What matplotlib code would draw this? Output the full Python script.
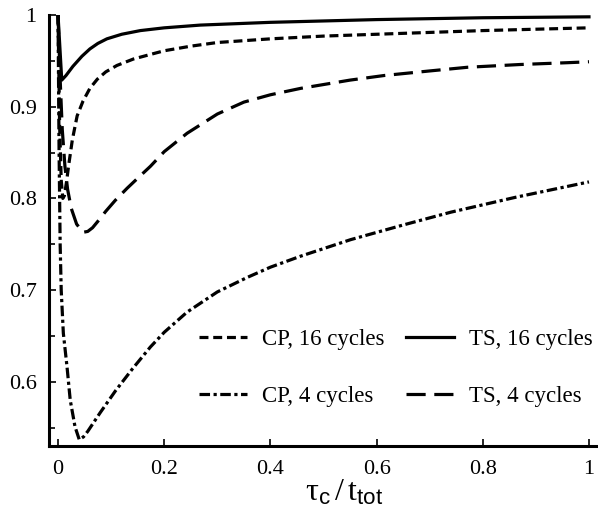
import matplotlib
matplotlib.use("Agg")
import matplotlib.pyplot as plt
from matplotlib.ticker import MultipleLocator, FuncFormatter

plt.rcParams["font.family"] = ["Liberation Serif", "DejaVu Serif"]
plt.rcParams["mathtext.fontset"] = "custom"
plt.rcParams["mathtext.rm"] = "Liberation Serif"
plt.rcParams["mathtext.it"] = "Liberation Serif"
plt.rcParams["mathtext.sf"] = "Liberation Sans"

# Fidelity vs. normalised control time for each sequence
cp16_x = [0.0, 0.003, 0.006, 0.009, 0.012, 0.016, 0.020, 0.027, 0.036, 0.047, 0.060, 0.074, 0.090,
          0.111, 0.142, 0.174, 0.20, 0.25, 0.30, 0.40, 0.50, 0.60, 0.80, 1.0]
cp16_y = [1.0, 0.88, 0.82, 0.800, 0.803, 0.818, 0.836, 0.864, 0.890, 0.906, 0.920, 0.930, 0.938,
          0.945, 0.952, 0.957, 0.961, 0.966, 0.970, 0.974, 0.977, 0.979, 0.983, 0.986]

ts16_x = [0.0, 0.007, 0.015, 0.028, 0.045, 0.060, 0.075, 0.092, 0.12, 0.155, 0.20, 0.268, 0.40,
          0.60, 0.80, 1.0]
ts16_y = [1.0, 0.929, 0.934, 0.944, 0.955, 0.963, 0.969, 0.974, 0.979, 0.983, 0.986, 0.989, 0.992,
          0.995, 0.997, 0.998]

cp4_x = [0.0, 0.002, 0.004, 0.006, 0.010, 0.017, 0.023, 0.032, 0.040, 0.048, 0.056, 0.079, 0.108,
         0.140, 0.174, 0.200, 0.243, 0.300, 0.357, 0.400, 0.457, 0.551, 0.650, 0.740, 0.860, 1.0]
cp4_y = [1.0, 0.85, 0.75, 0.70, 0.653, 0.616, 0.580, 0.551, 0.537, 0.540, 0.546, 0.566, 0.590,
         0.614, 0.638, 0.654, 0.676, 0.698, 0.714, 0.725, 0.737, 0.755, 0.771, 0.785, 0.801, 0.818]

ts4_x = [0.0, 0.004, 0.008, 0.013, 0.018, 0.025, 0.035, 0.047, 0.056, 0.065, 0.075, 0.090, 0.108,
         0.130, 0.150, 0.174, 0.20, 0.243, 0.30, 0.35, 0.40, 0.457, 0.55, 0.614, 0.70, 0.771, 0.87,
         0.96, 1.0]
ts4_y = [1.0, 0.93, 0.875, 0.835, 0.810, 0.789, 0.772, 0.763, 0.764, 0.768, 0.775, 0.786, 0.798,
         0.811, 0.822, 0.835, 0.851, 0.871, 0.892, 0.905, 0.913, 0.920, 0.929, 0.934, 0.939, 0.943,
         0.946, 0.948, 0.949]

labels = ["CP, 16 cycles", "CP, 4 cycles", "TS, 16 cycles", "TS, 4 cycles"]
x_ticks = [0, 0.2, 0.4, 0.6, 0.8, 1.0]
y_ticks = [0.6, 0.7, 0.8, 0.9, 1.0]

fig = plt.figure(figsize=(5.98, 5.15), dpi=100)
ax = fig.add_axes([49 / 598, 69 / 515, 549 / 598, 431 / 515])

lw = 2.3
ax.plot(cp16_x, cp16_y, color="black", lw=lw, dashes=(2.8, 1.5), label=labels[0])
ax.plot(cp4_x, cp4_y, color="black", lw=lw, dashes=(3.3, 1.1, 1.0, 1.1), label=labels[1])
ax.plot(ts16_x, ts16_y, color="black", lw=lw, linestyle="-", label=labels[2])
ax.plot(ts4_x, ts4_y, color="black", lw=lw, dashes=(6.0, 2.7), label=labels[3])

ax.set_xlim(-0.017, 1.017)
ax.set_ylim(0.530, 1.0)

for side in ("top", "right"):
    ax.spines[side].set_visible(False)
for side in ("left", "bottom"):
    ax.spines[side].set_linewidth(2.2)

ax.set_xticks(x_ticks)
ax.set_yticks(y_ticks)
ax.yaxis.set_minor_locator(MultipleLocator(0.05))

fmt = FuncFormatter(lambda v, p: ("%g" % round(v, 3)))
ax.xaxis.set_major_formatter(fmt)
ax.yaxis.set_major_formatter(fmt)

ax.tick_params(axis="both", which="major", direction="in", length=5, width=1.2,
               labelsize=16)
ax.tick_params(axis="y", which="minor", direction="in", length=4, width=1.2)
ax.tick_params(axis="x", which="major", pad=10)
ax.tick_params(axis="y", which="major", pad=9)

ax.set_xlabel(r"$\mathrm{\tau}_\mathsf{c}\,/\,\mathrm{t}_\mathsf{tot}$", fontsize=23)
ax.xaxis.set_label_coords((344 - 49) / 549, -0.075)

ax.legend(loc="upper left", bbox_to_anchor=((199 - 49) / 549, (446 - 329) / 431),
          ncol=2, frameon=False, fontsize=16.5, handlelength=2.1, handletextpad=0.65,
          columnspacing=0.95, labelspacing=1.55, borderpad=0, borderaxespad=0)

fig.savefig("out.png", dpi=100)
